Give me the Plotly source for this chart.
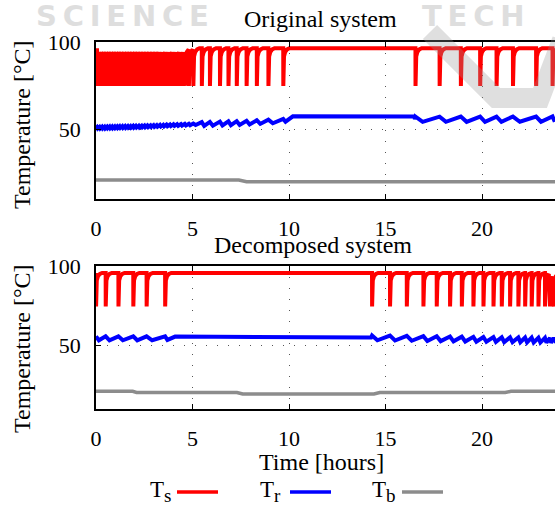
import numpy as np
import plotly.graph_objects as go

# ---------------- data ----------------
hour_ticks = [0, 5, 10, 15, 20]
temp_ticks = [50, 100]
x_range = [0, 23.78]
y_range = [10, 100]

# Original system
orig_ts_dip_hours = [0.05, 0.18, 0.31, 0.44, 0.57, 0.70, 0.83, 0.96, 1.09, 1.22,
                     1.36, 1.50, 1.64, 1.78, 1.92, 2.06, 2.21, 2.36, 2.51, 2.66,
                     2.82, 2.98, 3.14, 3.31, 3.48, 3.65, 3.83, 4.01, 4.20, 4.40,
                     4.60, 4.81, 5.04, 5.48, 5.90, 6.42, 6.86, 7.29, 7.80, 8.33,
                     8.93, 9.70, 16.55, 17.80, 18.90, 19.90, 20.75, 21.60, 22.80, 23.65]
orig_ts_high = 96.4
orig_ts_low = 74.8
orig_tr_knot_hours = [0.0, 2.5, 5.0, 7.5, 9.7, 10.2, 16.5, 16.52, 23.78]
orig_tr_knot_temps = [50.8, 51.6, 52.8, 53.6, 54.8, 57.4, 57.3, 55.7, 55.8]
orig_tr_zones = [(0.0, 5.1, 0.9), (5.1, 10.0, 2.2), (16.0, 24.0, 3.0)]
orig_tb_hours = [0.0, 7.4, 7.8, 23.78]
orig_tb_temps = [20.9, 20.9, 19.9, 19.9]

# Decomposed system
dec_ts_dip_hours = [0.0, 0.50, 1.16, 1.93, 2.62, 3.58, 14.30, 15.23, 16.10, 16.96,
                    17.65, 18.34, 18.95, 19.55, 20.07, 20.59, 21.02, 21.45, 21.88,
                    22.23, 22.57, 22.92, 23.26, 23.52, 23.72]
dec_ts_high = 95.6
dec_ts_low = 74.5
dec_tr_knot_hours = [0.0, 3.6, 4.1, 7.7, 8.0, 14.25, 14.3, 23.78]
dec_tr_knot_temps = [54.5, 54.5, 55.6, 55.6, 55.0, 55.0, 54.8, 53.2]
dec_tr_zones = [(0.0, 3.7, 2.5), (14.2, 24.0, 3.0)]
dec_tb_hours = [0.0, 1.9, 2.1, 7.3, 7.6, 14.4, 14.7, 21.2, 21.5, 23.78]
dec_tb_temps = [21.1, 21.1, 20.4, 20.4, 19.4, 19.4, 20.4, 20.4, 21.1, 21.1]

RED = "#ff0000"
BLUE = "#0000ff"
GRAY = "#8c8c8c"
SERIF = "Liberation Serif, Times New Roman, serif"


def ts_path(dips, high, low, t_end):
    # recovery after each drop (hours after the drop, fraction of the swing)
    rise = [(0.012, 0.55), (0.04, 0.78), (0.10, 0.90), (0.20, 0.97), (0.32, 1.0)]
    xs, ys = [], []
    for i, t in enumerate(dips):
        nxt = dips[i + 1] if i + 1 < len(dips) else None
        if not xs or ys[-1] == high:
            xs.append(t); ys.append(high)
        xs.append(t + 0.004); ys.append(low)
        for dt, f in rise:
            if nxt is None or t + dt < nxt - 0.004:
                xs.append(t + dt); ys.append(low + (high - low) * f)
    xs.append(t_end); ys.append(high)
    return xs, ys


def tr_path(kh, kv, dips, zones, t_end):
    pts = []
    spans = []
    for a, b, amp in zones:
        zd = [t for t in dips if a <= t < b]
        if not zd:
            continue
        for j, t in enumerate(zd):
            nxt = zd[j + 1] if j + 1 < len(zd) else t + 0.4
            p = nxt - t
            pts.append((t, float(np.interp(t, kh, kv)) + amp / 2))
            tl = t + 0.3 * p
            pts.append((tl, float(np.interp(tl, kh, kv)) - amp / 2))
        spans.append((zd[0], zd[-1] + 0.4))
    for h, v in zip(kh, kv):
        if not any(s <= h <= e for s, e in spans):
            pts.append((h, v))
    pts.sort()
    return [p[0] for p in pts], [p[1] for p in pts]


fig = go.Figure()

panels = [
    ("x", "y", orig_ts_dip_hours, orig_ts_high, orig_ts_low, orig_tr_knot_hours,
     orig_tr_knot_temps, orig_tr_zones, orig_tb_hours, orig_tb_temps),
    ("x2", "y2", dec_ts_dip_hours, dec_ts_high, dec_ts_low, dec_tr_knot_hours,
     dec_tr_knot_temps, dec_tr_zones, dec_tb_hours, dec_tb_temps),
]
for xa, ya, dips, hi, lo, kh, kv, zones, tbh, tbv in panels:
    tsx, tsy = ts_path(dips, hi, lo, x_range[1])
    trx, try_ = tr_path(kh, kv, dips, zones, x_range[1])
    fig.add_trace(go.Scatter(x=tbh, y=tbv, mode="lines", line=dict(color=GRAY, width=3.5),
                             xaxis=xa, yaxis=ya, showlegend=False))
    fig.add_trace(go.Scatter(x=trx, y=try_, mode="lines", line=dict(color=BLUE, width=4),
                             xaxis=xa, yaxis=ya, showlegend=False))
    fig.add_trace(go.Scatter(x=tsx, y=tsy, mode="lines", line=dict(color=RED, width=4),
                             xaxis=xa, yaxis=ya, showlegend=False))

W, H = 555, 508


def px(x):
    return x / W


def py(y):
    return 1 - y / H


xcommon = dict(range=x_range, tickvals=hour_ticks, ticks="inside", ticklen=5,
               tickcolor="black", showline=True, linecolor="black", linewidth=1.5,
               mirror="ticks", showgrid=True, gridcolor="#555555", gridwidth=1,
               griddash="1px,10px", zeroline=False, automargin=False,
               tickfont=dict(family=SERIF, size=22, color="black"),
               ticklabelstandoff=9)
ycommon = dict(range=y_range, tickvals=temp_ticks, ticks="inside", ticklen=5,
               tickcolor="black", showline=True, linecolor="black", linewidth=1.5,
               mirror=False, showgrid=True, gridcolor="#555555", gridwidth=1,
               griddash="1px,10px", zeroline=False, automargin=False,
               tickfont=dict(family=SERIF, size=22, color="black"),
               ticklabelstandoff=9)

fig.update_layout(
    width=W, height=H, margin=dict(l=0, r=0, t=0, b=0, pad=0, autoexpand=False),
    paper_bgcolor="white", plot_bgcolor="white", showlegend=False,
    xaxis=dict(domain=[px(96), 1], anchor="y", **xcommon),
    yaxis=dict(domain=[py(199), py(42)], anchor="x", **ycommon),
    xaxis2=dict(domain=[px(96), 1], anchor="y2", **xcommon),
    yaxis2=dict(domain=[py(409), py(266)], anchor="x2", **ycommon),
)


def note(x, y, text, size=24, xanchor="center", **kw):
    base = dict(x=px(x), y=py(y), xref="paper", yref="paper", xanchor=xanchor,
                yanchor="middle", text=text, showarrow=False,
                font=kw.pop("font", dict(family=SERIF, size=size, color="black")))
    base.update(kw)
    return base


ann = []
# watermark
wm_font = dict(family="DejaVu Sans", size=29, color="#dedede", weight="bold")
ann.append(note(34, 16, "S\u2009C\u2009I\u2009E\u2009N\u2009C\u2009E", xanchor="left", font=wm_font))
ann.append(note(420, 16, "T\u2009E\u2009C\u2009H", xanchor="left", font=wm_font))
# titles
ann.append(note(320, 19, "Original system", bgcolor="white", borderpad=1))
ann.append(note(313, 245, "Decomposed system"))
for yc in (125, 349):
    ann.append(note(22, yc, "Temperature [°C]", textangle=-90))
ann.append(note(321, 462, "Time [hours]"))

legend_items = [("s", RED, 148, 177), ("r", BLUE, 258, 290), ("b", GRAY, 370, 402)]
shapes = []
for sub, col, tx, lx in legend_items:
    txt = "T<sub><span style='font-size:19px'>%s</span></sub>" % sub
    ann.append(note(tx, 491, txt, size=23, xanchor="left"))
    shapes.append(dict(type="line", xref="paper", yref="paper", x0=px(lx), x1=px(lx + 41),
                       y0=py(492), y1=py(492), line=dict(color=col, width=3.5)))

# watermark logo (light gray chevron over the upper right corner)
logo_pts = [(430, 32), (496, 98), (540, 98), (562, 40)]
path = "M " + " L ".join("%f,%f" % (px(a), py(b)) for a, b in logo_pts)
shapes.append(dict(type="path", xref="paper", yref="paper", layer="above", path=path,
                   line=dict(color="rgba(150,150,150,0.3)", width=20)))

fig.update_layout(annotations=ann, shapes=shapes)
fig.write_html("out.html", config={"displayModeBar": False},
               post_script="document.body.style.margin='0px';"
                           "document.body.style.overflow='hidden';")
